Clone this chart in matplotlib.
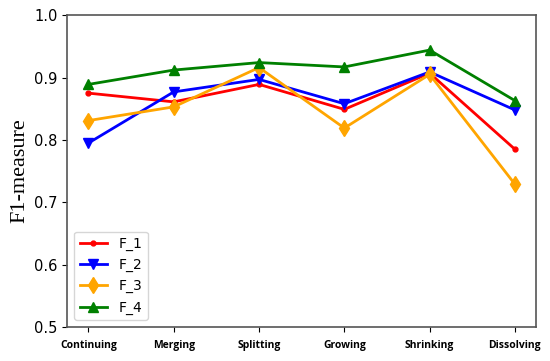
import matplotlib.pyplot as plt
import numpy as np

categories = ['Continuing', 'Merging', 'Splitting', 'Growing', 'Shrinking', 'Dissolving']
f_1 = [0.875, 0.861, 0.889, 0.849, 0.907, 0.785]
f_2 = [0.795, 0.877, 0.897, 0.858, 0.909, 0.848]
f_3 = [0.831, 0.853, 0.916, 0.819, 0.905, 0.729]
f_4 = [0.889, 0.912, 0.924, 0.917, 0.944, 0.863]
yticks = [0.5, 0.6, 0.7, 0.8, 0.9, 1.0]

fig = plt.figure(figsize=(5.5, 3.61), dpi=100)
ax = fig.add_axes([0.122, 0.094, 0.853, 0.864])

x = np.arange(len(categories))
ax.plot(x, f_1, color='red', marker='.', markersize=7, linewidth=2, label='F_1')
ax.plot(x, f_2, color='blue', marker='v', markersize=7.5, linewidth=2, label='F_2')
ax.plot(x, f_3, color='orange', marker='d', markersize=8.5, linewidth=2, label='F_3')
ax.plot(x, f_4, color='green', marker='^', markersize=7.5, linewidth=2, label='F_4')

ax.set_ylim(0.5, 1.0)
ax.set_yticks(yticks)
ax.set_yticklabels(['%.1f' % v for v in yticks], fontsize=10.5)
ax.set_xticks(x)
ax.set_xticklabels(categories, fontsize=7.5, fontweight='bold', family='Open Sans')
ax.tick_params(axis='x', pad=6)
ax.set_ylabel('F1-measure', fontsize=16, family='Liberation Serif', labelpad=3)

for s in ax.spines.values():
	s.set_color('#555555')
	s.set_linewidth(1.2)

ax.legend(loc='lower left', fontsize=10)

fig.savefig('out.png', dpi=100)
